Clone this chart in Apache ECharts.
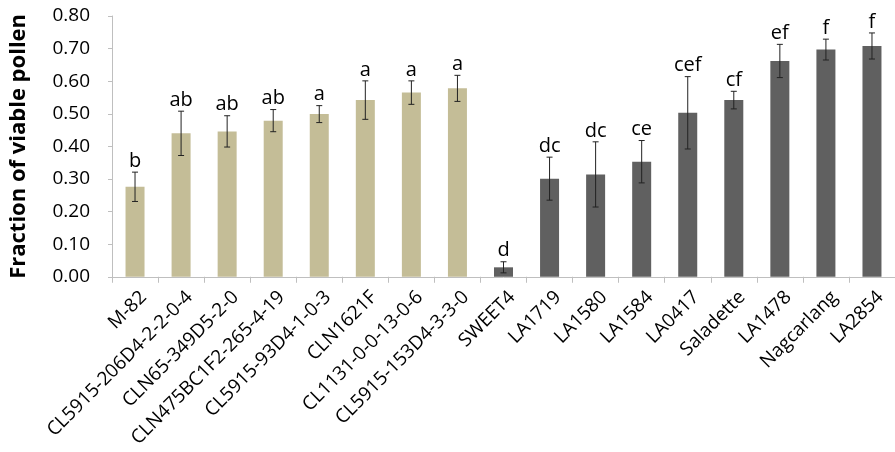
<!DOCTYPE html>
<html>
<head>
<meta charset="utf-8">
<script src="https://cdn.jsdelivr.net/npm/echarts@6/dist/echarts.min.js"></script>
<style>
  html, body { margin: 0; padding: 0; background: #fff; }
  #main { width: 895px; height: 452px; }
</style>
</head>
<body>
<div id="main"></div>
<script>
// 品种名称
const categories = ['M-82', 'CL5915-206D4-2-2-0-4', 'CLN65-349D5-2-0', 'CLN475BC1F2-265-4-19',
  'CL5915-93D4-1-0-3', 'CLN1621F', 'CL1131-0-0-13-0-6', 'CL5915-153D4-3-3-0',
  'SWEET4', 'LA1719', 'LA1580', 'LA1584', 'LA0417', 'Saladette', 'LA1478', 'Nagcarlang', 'LA2854'];
// 花粉活力均值
const means = [0.276, 0.440, 0.446, 0.479, 0.499, 0.542, 0.565, 0.578,
  0.029, 0.301, 0.314, 0.353, 0.503, 0.542, 0.662, 0.697, 0.708];
// 误差 (±)
const errors = [0.045, 0.068, 0.048, 0.034, 0.026, 0.059, 0.036, 0.040,
  0.017, 0.066, 0.100, 0.065, 0.111, 0.027, 0.051, 0.032, 0.040];
// 显著性字母
const letters = ['b', 'ab', 'ab', 'ab', 'a', 'a', 'a', 'a',
  'd', 'dc', 'dc', 'ce', 'cef', 'cf', 'ef', 'f', 'f'];
// 0 = 第一组, 1 = 第二组
const groups = [0, 0, 0, 0, 0, 0, 0, 0, 1, 1, 1, 1, 1, 1, 1, 1, 1];
const yTicks = [0, 0.1, 0.2, 0.3, 0.4, 0.5, 0.6, 0.7, 0.8];

const groupColors = ['#C4BD97', '#606060'];
const font = '"Open Sans", sans-serif';

const chart = echarts.init(document.getElementById('main'));

const option = {
  animation: false,
  grid: {
    left: 104,
    right: -6,
    top: 16,
    bottom: 172
  },
  xAxis: {
    type: 'category',
    data: categories,
    axisLine: { lineStyle: { color: '#BFBFBF', width: 1 } },
    axisTick: { show: true, length: 6, lineStyle: { color: '#BFBFBF' } },
    axisLabel: {
      interval: 0,
      rotate: 45,
      margin: 9,
      verticalAlign: 'top',
      lineHeight: 24,
      color: '#000',
      fontSize: 19,
      fontFamily: font
    }
  },
  yAxis: {
    type: 'value',
    min: yTicks[0],
    max: yTicks[yTicks.length - 1],
    interval: 0.1,
    name: 'Fraction of viable pollen',
    nameLocation: 'middle',
    nameGap: 82,
    nameTextStyle: {
      color: '#000',
      fontSize: 22,
      fontWeight: 'bold',
      fontFamily: font
    },
    axisLine: { show: true, lineStyle: { color: '#BFBFBF', width: 1 } },
    axisTick: { show: true, length: 4, lineStyle: { color: '#BFBFBF' } },
    splitLine: { show: false },
    axisLabel: {
      margin: 22,
      color: '#000',
      fontSize: 19,
      fontFamily: font,
      formatter: (v) => v.toFixed(2)
    }
  },
  series: [{
    type: 'bar',
    barWidth: 19,
    data: means.map((v, i) => ({
      value: v,
      itemStyle: { color: groupColors[groups[i]] }
    }))
  }, {
    // 误差线 + 字母
    type: 'custom',
    data: means.map((v, i) => [i, v - errors[i], v + errors[i]]),
    renderItem: (params, api) => {
      const x = api.coord([api.value(0), 0])[0];
      const lo = api.coord([api.value(0), api.value(1)])[1];
      const hi = api.coord([api.value(0), api.value(2)])[1];
      const cap = 3;
      const style = { stroke: '#222', lineWidth: 1 };
      return {
        type: 'group',
        children: [
          { type: 'line', shape: { x1: x, y1: hi, x2: x, y2: lo }, style: style },
          { type: 'line', shape: { x1: x - cap, y1: hi, x2: x + cap, y2: hi }, style: style },
          { type: 'line', shape: { x1: x - cap, y1: lo, x2: x + cap, y2: lo }, style: style },
          {
            type: 'text',
            x: x,
            y: hi - 1,
            style: {
              text: letters[params.dataIndex],
              fill: '#000',
              fontSize: 20,
              fontFamily: font,
              align: 'center',
              verticalAlign: 'bottom'
            }
          }
        ]
      };
    },
    z: 5
  }]
};

chart.setOption(option);
</script>
</body>
</html>
